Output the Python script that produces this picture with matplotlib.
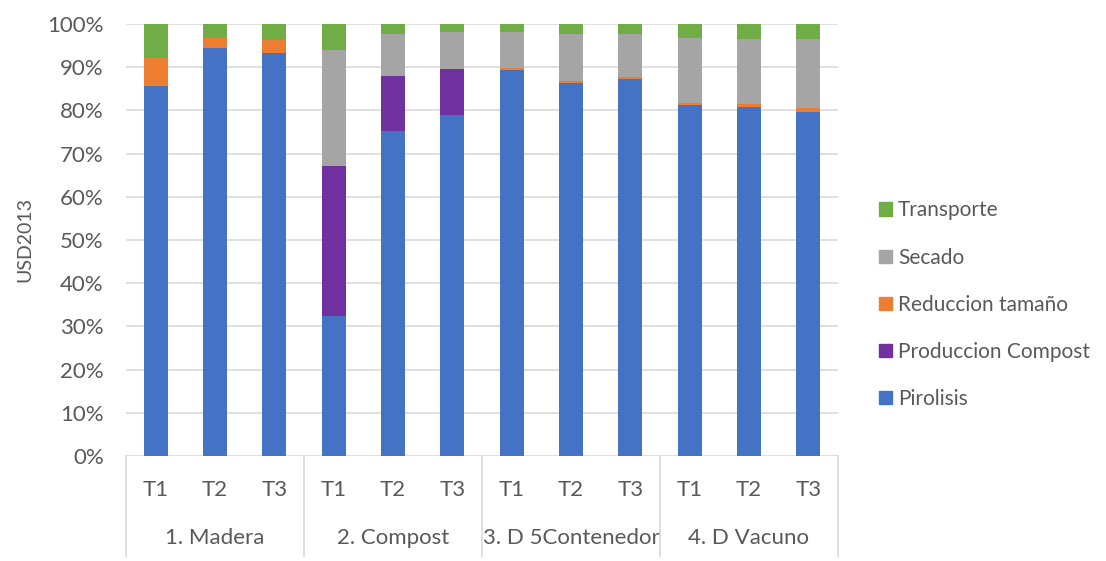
import numpy as np
import matplotlib.pyplot as plt
from matplotlib.patches import Patch

# groups and treatments along the x axis
grupos = ["1. Madera", "2. Compost", "3. D 5Contenedor", "4. D Vacuno"]
tratamientos = ["T1", "T2", "T3"]

# share of total cost per stage (%), one value per bar
pirolisis = [85.6, 94.4, 93.3, 32.4, 75.3, 79.0, 89.3, 86.4, 87.3, 81.2, 80.8, 79.6]
produccion_compost = [0, 0, 0, 34.7, 12.7, 10.6, 0, 0, 0, 0, 0, 0]
reduccion_tamano = [6.5, 2.4, 3.0, 0, 0, 0, 0.4, 0.5, 0.4, 0.6, 0.7, 1.0]
secado = [0, 0, 0, 26.9, 9.7, 8.5, 8.4, 10.8, 10.0, 15.0, 15.0, 15.9]
transporte = [7.9, 3.2, 3.7, 6.0, 2.3, 1.9, 1.9, 2.3, 2.3, 3.2, 3.5, 3.5]

series = [
    ("Pirolisis", pirolisis, "#4472C4"),
    ("Produccion Compost", produccion_compost, "#7030A0"),
    ("Reduccion tamaño", reduccion_tamano, "#ED7D31"),
    ("Secado", secado, "#A5A5A5"),
    ("Transporte", transporte, "#70AD47"),
]

plt.rcParams['font.family'] = ['Lato', 'DejaVu Sans']
texto = "#595959"
fs = 16

fig = plt.figure(figsize=(11.06, 5.61), dpi=100)
ax = fig.add_axes([126 / 1106, 105 / 561, 712 / 1106, 432 / 561])

x = np.arange(len(pirolisis))
base = np.zeros(len(x))
for nombre, vals, color in series:
    vals = np.array(vals, dtype=float)
    ax.bar(x, vals, width=0.41, bottom=base, color=color, label=nombre, zorder=3)
    base += vals

ax.set_xlim(-0.5, len(x) - 0.5)
ax.set_ylim(0, 100)
ax.set_yticks(np.arange(0, 101, 10))
ax.set_yticklabels([f"{v}%" for v in range(0, 101, 10)])
ax.yaxis.grid(True, color="#D9D9D9", linewidth=1.2, zorder=0)
ax.tick_params(axis="y", length=0, labelsize=fs, labelcolor=texto, pad=16)
ax.set_xticks([])
for s in ax.spines.values():
    s.set_visible(False)
ax.set_ylabel("USD2013", fontsize=14, color=texto, labelpad=10)

# two-level category axis drawn below the plot
trans = ax.get_xaxis_transform()
for i, xi in enumerate(x):
    ax.text(xi, -0.079, tratamientos[i % 3], transform=trans, ha="center",
            va="center", fontsize=fs, color=texto)
for g, nombre in enumerate(grupos):
    ax.text(3 * g + 1, -0.19, nombre, transform=trans, ha="center",
            va="center", fontsize=fs, color=texto)
for sep in [-0.5, 2.5, 5.5, 8.5, 11.5]:
    ax.plot([sep, sep], [0, -0.2315], transform=trans, color="#D9D9D9",
            linewidth=1.2, clip_on=False)

handles = [Patch(color=c, label=n) for n, _, c in series][::-1]
fig.legend(handles=handles, loc="center left", bbox_to_anchor=(0.778, 0.457),
           frameon=False, fontsize=15, labelcolor=texto, handlelength=0.6,
           handleheight=0.6, handletextpad=0.3, labelspacing=1.3)

fig.savefig("out.png", dpi=100)
